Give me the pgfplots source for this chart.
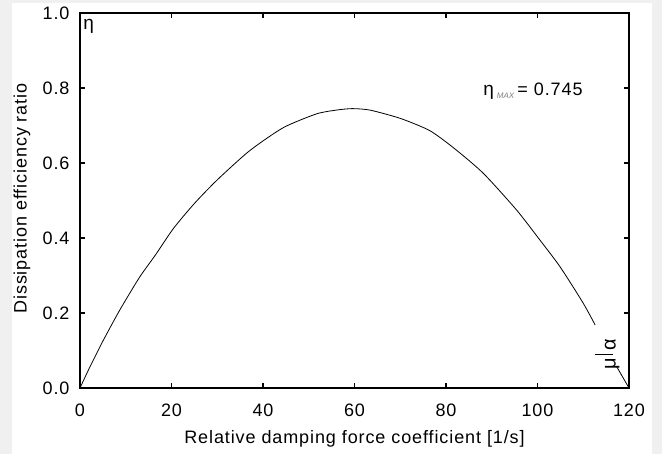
\documentclass[border=0pt]{standalone}
\usepackage{fontspec}
\setmainfont{Liberation Sans}
\newfontfamily\lsfont[LetterSpace=5]{Liberation Sans}
\usepackage{pgfplots}
\pgfplotsset{compat=1.18}
\definecolor{bggray}{HTML}{F0F0F0}
\begin{document}
\begin{tikzpicture}[x=1pt,y=1pt]
\path[use as bounding box] (0,0) rectangle (662,454);
\fill[bggray] (0,0) rectangle (662,454);
\fill[white] (12,0) rectangle (652,451);
\begin{axis}[
  at={(80pt,66pt)}, anchor=south west,
  scale only axis, width=549pt, height=375pt,
  xmin=0, xmax=120, ymin=0, ymax=1,
  xtick={0,20,40,60,80,100,120},
  ytick={0,0.2,0.4,0.6,0.8,1.0},
  tick align=inside, major tick length=5pt,
  axis line style={line width=2.5pt},
  every tick/.style={black, line width=1.5pt},
  /pgf/number format/assume math mode=true,
  yticklabel style={/pgf/number format/fixed, /pgf/number format/fixed zerofill, /pgf/number format/precision=1, xshift=-7pt},
  ticklabel style={font=\lsfont\fontsize{18}{18}\selectfont},
  xticklabel style={yshift=-12pt},
  xlabel={Relative damping force coefficient [1/s]},
  label style={font=\lsfont\fontsize{18}{18}\selectfont},
  xlabel style={at={(axis description cs:0.5,0)}, anchor=center, yshift=-51pt},
  clip=false,
]
\addplot[black, line width=0.8pt, smooth, tension=0.4] coordinates {
(0,0) (2,0.052) (5,0.125) (8.7,0.208) (13,0.295) (16.5,0.355) (20.4,0.425)
(25,0.492) (30,0.555) (37,0.632) (44.4,0.694) (51.7,0.731) (56,0.741)
(59.5,0.745) (63.4,0.741) (70,0.719) (76.5,0.686) (82,0.637) (88.2,0.572)
(95.4,0.475) (100.5,0.395) (105,0.322) (110,0.226) (112.6,0.168)
};
\addplot[black, line width=0.8pt] coordinates {(117.3,0.057) (120,0)};
\node[rotate=90, anchor=center, font=\lsfont\fontsize{18}{18}\selectfont]
  at ([xshift=-58pt,yshift=2pt]axis description cs:0,0.5) {Dissipation efficiency ratio};
\node[anchor=west, inner sep=0pt, font=\fontsize{19}{19}\selectfont] at (axis cs:0.7,0.965) {η};
\node[anchor=west, inner sep=0pt] at (axis cs:88.1,0.792)
  {\fontsize{19}{19}\selectfont η\,{\color{gray}\fontsize{8}{8}\selectfont\itshape\raisebox{-3pt}{MAX}}\,\lsfont\fontsize{18}{18}\selectfont = 0.745};
\node[rotate=90, inner sep=0pt, font=\fontsize{20}{20}\selectfont] at (axis cs:115.2,0.09) {μ\,{\raisebox{0.15em}{\rule{0.6pt}{0.9em}}}\,α};
\end{axis}
\end{tikzpicture}
\end{document}
